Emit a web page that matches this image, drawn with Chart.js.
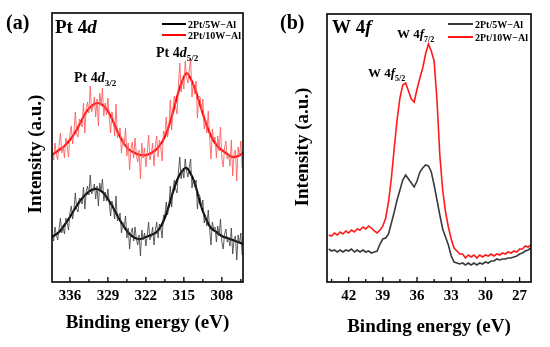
<!DOCTYPE html>
<html><head><meta charset="utf-8">
<script src="https://cdn.jsdelivr.net/npm/chart.js@4"></script>
<style>
html,body{margin:0;padding:0;background:#fff;width:550px;height:347px;overflow:hidden}
.p{position:absolute;top:0;width:275px;height:347px}
canvas{display:block}
</style></head><body>
<div class="p" style="left:0"><canvas id="ca" width="275" height="347"></canvas></div>
<div class="p" style="left:275px"><canvas id="cb" width="275" height="347"></canvas></div>
<script>
// ---------- DATA ----------
const seriesNames = ['2Pt/5W\u2212Al', '2Pt/10W\u2212Al'];
const ptTicks = [336, 329, 322, 315, 308];
const wTicks = [42, 39, 36, 33, 30, 27];

// Pt 4d smoothed curves
const ptSmoothE = [339.3,338,337,336,335,334,333,332,331,330,329,328,327,326,325,324,323,322,321,320,319,318,317,316,315,314.5,314,313,312,311,310,309,308,307,306,305,304.1];
const ptSmooth10W = [127,132,136,142,150,160,170,176,179,177,171,160,148,138,132,129,127,127,129,133,140,152,170,190,205,209,206,194,177,160,146,137,132,128,125,126,129];
const ptSmooth5W = [45,50,57,65,74,82,88,92,93,90,83,74,64,55,48,44,43,45,47,50,58,72,90,105,113,114,111,99,79,64,54,50,46,44,42,40,38];

// Pt 4d raw spectra, energies from 339.25 eV downward in 0.25 eV steps
const ptRawStart = 339.25, ptRawStep = -0.25;
const ptRaw10W = [130,122,139,128,122,136,149,129,136,124,
144,136,125,147,156,138,150,170,148,145,
163,159,155,179,149,173,180,169,196,170,
175,185,165,183,156,189,177,194,166,179,
167,184,165,149,170,162,146,178,144,149,
154,129,144,136,154,126,139,112,134,140,
124,144,127,120,132,103,139,124,134,115,
129,147,122,128,139,116,136,146,125,142,
135,121,151,147,165,145,154,182,152,174,
186,175,168,197,219,190,204,193,221,205,
199,212,223,185,199,188,201,164,186,185,
171,183,153,163,149,171,145,123,153,142,
145,124,146,131,155,124,115,134,141,123,
128,116,142,106,128,132,101,135,125,141,
114];
const ptRaw5W = [47,41,55,47,42,53,64,49,55,48,
64,59,52,69,76,63,73,89,73,70,
84,81,78,95,73,90,96,87,107,88,
91,98,83,96,76,99,91,103,81,90,
81,93,79,66,81,75,63,86,61,65,
69,49,60,54,66,44,54,33,49,54,
41,55,43,37,47,26,52,42,49,36,
46,60,42,46,55,37,52,60,44,58,
54,44,67,66,80,67,75,96,75,93,
102,93,89,110,125,103,113,104,123,111,
105,115,123,94,103,95,102,73,88,85,
74,82,59,66,56,72,53,37,60,53,
55,40,56,46,63,40,33,48,53,40,
44,36,54,28,43,46,22,47,38,49,
27];

// W 4f spectra, energies from 43.75 eV downward in 0.25 eV steps
const wStart = 43.75, wStep = -0.25;
const w10W = [47,46,49,47,50,48,51,49,52,50,53,52,55,53,56,54,
51,49,52,56,64,80,104,134,162,184,197,199,191,183,180,193,
204,214,228,238,231,221,182,127,92,70,55,43,34,31,28,28,
24,27,25,27,24,27,25,27,26,28,26,28,27,29,28,30,
29,31,30,33,33,36,35,37];
const w5W = [33,31,32,30,32,30,32,31,33,30,32,30,32,30,31,29,
30,31,38,43,44,48,59,70,82,92,102,107,103,99,95,101,
110,114,117,116,110,97,82,67,53,45,37,26,20,19,18,19,
17,19,17,19,17,19,18,20,19,21,21,23,22,23,23,24,
24,25,26,28,29,31,32,34];

// ---------- helpers ----------
function pairs(xs, ys){ return ys.map((y,i)=>({x:xs[i], y})); }
function grid(start, step, ys){ return ys.map((y,i)=>({x:+(start+i*step).toFixed(3), y})); }
const FAM = '"Liberation Serif", "Times New Roman", serif';

function richText(ctx, x, y, parts, size){
  let cx = x;
  parts.forEach(p=>{
    const s = p.sub ? Math.round(size*0.64) : size;
    ctx.font = (p.it?'italic ':'') + 'bold ' + s + 'px ' + FAM;
    ctx.fillText(p.t, cx, y + (p.sub ? Math.round(size*0.3) : 0));
    cx += ctx.measureText(p.t).width;
  });
}

const decor = {
  id:'decor',
  afterDatasetsDraw(chart, args, o){
    const ctx = chart.ctx, a = chart.chartArea, xs = chart.scales.x;
    ctx.save();
    ctx.strokeStyle = '#000';
    ctx.lineWidth = 1.6;
    ctx.strokeRect(a.left, a.top, a.right-a.left, a.bottom-a.top);
    // inward ticks (major + minor)
    ctx.lineWidth = 1.3;
    const t0 = o.ticks[0], st = o.step;
    for (let k=-4; k<=o.ticks.length*2+4; k++){
      const v = t0 + k*st/2 * (o.ticks[1]>o.ticks[0]?1:-1);
      if (v < xs.min || v > xs.max) continue;
      const px = xs.getPixelForValue(v);
      const len = (k%2===0) ? 5 : 3;
      ctx.beginPath(); ctx.moveTo(px, a.bottom); ctx.lineTo(px, a.bottom-len); ctx.stroke();
    }
    ctx.fillStyle = '#000';
    ctx.textBaseline = 'alphabetic';
    ctx.textAlign = 'left';
    ctx.font = 'bold 20px ' + FAM;
    ctx.fillText(o.panel.t, o.panel.x, o.panel.y);
    richText(ctx, o.title.x, o.title.y, o.title.parts, 19);
    o.notes.forEach(n => richText(ctx, n.x, n.y, n.parts, n.size));
    o.legend.forEach(l => {
      ctx.strokeStyle = l.color; ctx.lineWidth = 2;
      ctx.beginPath(); ctx.moveTo(o.legX1, l.y); ctx.lineTo(o.legX2, l.y); ctx.stroke();
      ctx.font = 'bold 10px ' + FAM;
      ctx.fillText(l.text, o.legX2 + 2, l.y + 3.5);
    });
    ctx.font = 'bold 19px ' + FAM;
    ctx.textAlign = 'center';
    ctx.fillText('Binding energy (eV)', (a.left+a.right)/2, o.xTitleY);
    ctx.save();
    ctx.translate(o.yTitle.x, o.yTitle.y);
    ctx.rotate(-Math.PI/2);
    ctx.fillText('Intensity (a.u.)', 0, 0);
    ctx.restore();
    ctx.restore();
  }
};

function xScale(min, max, ticks){
  return {
    type:'linear', reverse:true, min, max,
    afterBuildTicks: s => { s.ticks = ticks.map(v=>({value:v})); },
    afterFit: s => { s.height = 65; },
    grid:{display:false, drawTicks:false}, border:{display:false},
    ticks:{font:{family:FAM, size:15, weight:'bold'}, color:'#000', padding:5, maxRotation:0, autoSkip:false, callback: v => String(v)}
  };
}

// ---------- Panel (a) Pt 4d ----------
new Chart(document.getElementById('ca'), {
  type:'line',
  data:{datasets:[
    {label:seriesNames[1]+' raw', data:grid(ptRawStart, ptRawStep, ptRaw10W), borderColor:'rgba(255,90,90,0.95)', borderWidth:0.9, tension:0},
    {label:seriesNames[1], data:pairs(ptSmoothE, ptSmooth10W), borderColor:'#ff0000', borderWidth:2.2, tension:0.4},
    {label:seriesNames[0]+' raw', data:grid(ptRawStart, ptRawStep, ptRaw5W), borderColor:'rgba(60,60,60,0.9)', borderWidth:0.9, tension:0},
    {label:seriesNames[0], data:pairs(ptSmoothE, ptSmooth5W), borderColor:'#000000', borderWidth:2.2, tension:0.4}
  ]},
  options:{
    responsive:false, animation:false, devicePixelRatio:1,
    layout:{padding:{left:52, top:13, right:32, bottom:0}},
    elements:{point:{radius:0}},
    plugins:{legend:{display:false}, tooltip:{enabled:false},
      decor:{
        ticks:ptTicks, step:7,
        panel:{t:'(a)', x:6, y:29},
        title:{x:55, y:33, parts:[{t:'Pt 4'},{t:'d',it:true}]},
        notes:[
          {x:74, y:82, size:14, parts:[{t:'Pt 4'},{t:'d',it:true},{t:'3/2',sub:true}]},
          {x:156, y:57, size:14, parts:[{t:'Pt 4'},{t:'d',it:true},{t:'5/2',sub:true}]}
        ],
        legX1:162, legX2:186,
        legend:[{color:'#000', text:seriesNames[0], y:24},{color:'#ff0000', text:seriesNames[1], y:35}],
        xTitleY:328, yTitle:{x:41, y:154}
      }},
    scales:{ x:xScale(304.1, 339.3, ptTicks), y:{display:false, min:0, max:269} }
  },
  plugins:[decor]
});

// ---------- Panel (b) W 4f ----------
new Chart(document.getElementById('cb'), {
  type:'line',
  data:{datasets:[
    {label:seriesNames[0], data:grid(wStart, wStep, w5W), borderColor:'#3a3a3a', borderWidth:1.6, tension:0},
    {label:seriesNames[1], data:grid(wStart, wStep, w10W), borderColor:'#ff1a1a', borderWidth:1.6, tension:0}
  ]},
  options:{
    responsive:false, animation:false, devicePixelRatio:1,
    layout:{padding:{left:52, top:14, right:19, bottom:0}},
    elements:{point:{radius:0}},
    plugins:{legend:{display:false}, tooltip:{enabled:false},
      decor:{
        ticks:wTicks, step:3,
        panel:{t:'(b)', x:5, y:29},
        title:{x:57, y:33, parts:[{t:'W 4'},{t:'f',it:true}]},
        notes:[
          {x:93, y:77, size:13, parts:[{t:'W 4'},{t:'f',it:true},{t:'5/2',sub:true}]},
          {x:122, y:38, size:13, parts:[{t:'W 4'},{t:'f',it:true},{t:'7/2',sub:true}]}
        ],
        legX1:173, legX2:198,
        legend:[{color:'#3a3a3a', text:seriesNames[0], y:24},{color:'#ff1a1a', text:seriesNames[1], y:37}],
        xTitleY:332, yTitle:{x:33, y:147}
      }},
    scales:{ x:xScale(26.0, 43.9, wTicks), y:{display:false, min:0, max:268} }
  },
  plugins:[decor]
});
</script>
</body></html>
